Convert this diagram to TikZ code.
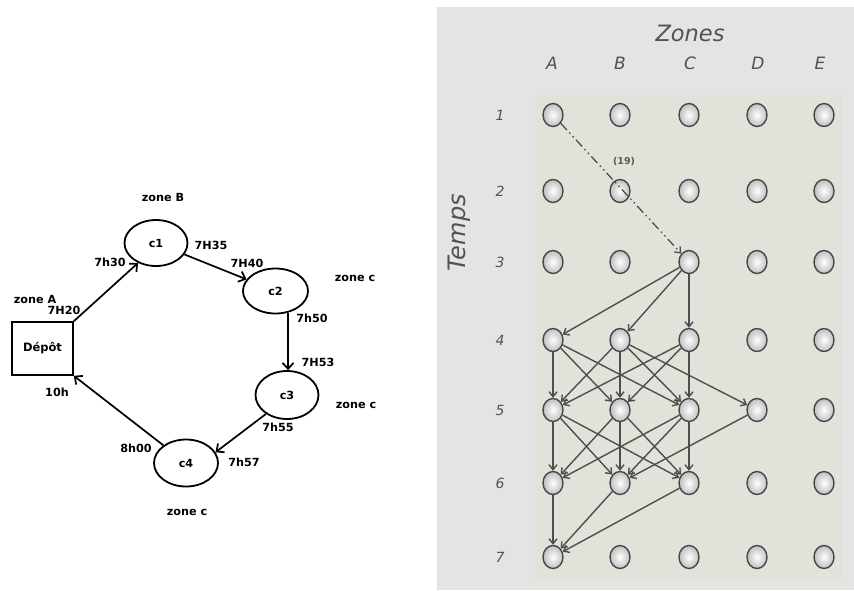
\documentclass[tikz,border=0pt]{standalone}
\usepackage{fontspec}
\newfontfamily\lblfont{DejaVu Sans}
\usetikzlibrary{shapes.geometric,arrows.meta}
\definecolor{outerbg}{RGB}{228,228,226}
\definecolor{innerbg}{RGB}{226,226,218}
\definecolor{inkgray}{RGB}{78,78,78}
\begin{document}
\begin{tikzpicture}[x=1pt,y=-1pt,
  lbl/.style={font=\lblfont\bfseries\fontsize{11.2}{13}\selectfont, inner sep=0pt, anchor=center},
  city/.style={ellipse, draw=black, line width=1.8pt, inner sep=0pt, font=\lblfont\bfseries\fontsize{11.2}{13}\selectfont},
  route/.style={draw=black, line width=1.7pt, -{Straight Barb[length=6pt,width=11pt]}},
  ball/.style={ellipse, minimum width=20pt, minimum height=23pt, inner sep=0pt, draw=black!72, line width=1.4pt, inner color=white, outer color=black!25},
  garc/.style={draw=inkgray, line width=1.4pt, -{Straight Barb[length=5pt,width=8pt]}},
  hand/.style={text=black!68, inner sep=0pt, anchor=center}
]
\useasboundingbox (0,0) rectangle (854,590);
\fill[white] (0,0) rectangle (854,590);

% ---------------- left diagram ----------------
\node[draw=black, line width=1.6pt, minimum width=61pt, minimum height=53pt, inner sep=0pt,
      font=\lblfont\bfseries\fontsize{11.5}{13}\selectfont] (dep) at (42.5,348.5) {Dépôt};
\node[city, minimum width=63pt, minimum height=46pt] (c1) at (156,243) {c1};
\node[city, minimum width=65pt, minimum height=45pt] (c2) at (275.5,291) {c2};
\node[city, minimum width=63pt, minimum height=48pt] (c3) at (287,395) {c3};
\node[city, minimum width=64pt, minimum height=47pt] (c4) at (186,463) {c4};

\draw[route] (dep.north east) -- (c1.228);
\draw[route] (c1) -- (c2);
\draw[route] (c2.300) -- (c2.300 |- c3.north);
\draw[route] (c3.222) -- (c4.20);
\draw[route] (c4.142) -- (dep.south east);

\node[lbl] (zB) at (163,197) {zone B};
\node[lbl] (zA) at (35,299) {zone A};
\node[lbl] (t1) at (64,310) {7H20};
\node[lbl] (t2) at (110,262) {7h30};
\node[lbl] (t3) at (211,245) {7H35};
\node[lbl] (t4) at (247,263) {7H40};
\node[lbl] (zC1) at (355,278) {zone c};
\node[lbl] (t5) at (312,318) {7h50};
\node[lbl] (t6) at (318,362) {7H53};
\node[lbl] (zC2) at (356,405) {zone c};
\node[lbl] (t7) at (278,427) {7h55};
\node[lbl] (t8) at (136,448) {8h00};
\node[lbl] (t9) at (244,462) {7h57};
\node[lbl] (zC3) at (187,512) {zone c};
\node[lbl] (t10) at (57,392) {10h};

% ---------------- right diagram ----------------
\fill[outerbg] (437,7) rectangle (854,590);
\fill[innerbg] (535,95) rectangle (842,580);

\node[hand, font=\lblfont\itshape\fontsize{22.5}{26}\selectfont] (zones) at (690,33) {Zones};
\node[hand, font=\lblfont\itshape\fontsize{24}{28}\selectfont, rotate=90] (temps) at (459,233) {Temps};
\foreach \c/\x in {A/552,B/620,C/690,D/758,E/820}
  \node[hand, font=\lblfont\itshape\fontsize{17}{19}\selectfont] (col\c) at (\x,63) {\c};
\foreach \r/\y in {1/115,2/191,3/262,4/340,5/410,6/483,7/557}
  \node[hand, font=\lblfont\itshape\fontsize{14}{16}\selectfont] (row\r) at (500,\y) {\r};

\foreach \c/\x in {A/553,B/620,C/689,D/757,E/824}
  \foreach \r/\y in {1/115,2/191,3/262,4/340,5/410,6/483,7/557}
    \node[ball] (\c\r) at (\x,\y) {};

\draw[garc, line width=1.3pt, dash pattern=on 9pt off 3.5pt on 1.5pt off 3.5pt on 1.5pt off 3.5pt] (A1) -- (C3);
\node[text=black!65, inner sep=0pt, font=\lblfont\bfseries\fontsize{9.5}{11}\selectfont] (w19) at (624,162) {(19)};

\foreach \s/\t in {C3/A4,C3/B4,C3/C4,
  A4/A5,A4/B5,A4/C5,B4/A5,B4/B5,B4/C5,B4/D5,C4/A5,C4/B5,C4/C5,
  A5/A6,A5/B6,A5/C6,B5/A6,B5/B6,B5/C6,C5/A6,C5/B6,C5/C6,D5/B6,
  A6/A7,B6/A7,C6/A7}
  \draw[garc] (\s) -- (\t);
\end{tikzpicture}
\end{document}
